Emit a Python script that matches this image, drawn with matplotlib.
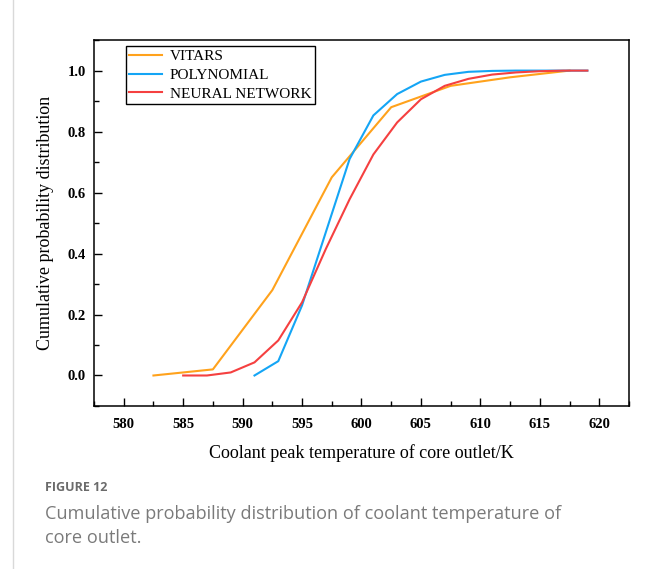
import matplotlib
matplotlib.use("Agg")
import matplotlib.pyplot as plt
from matplotlib.lines import Line2D
from matplotlib.ticker import MultipleLocator

# Кривые распределения для трёх методов
vitars_t = [582.5, 587.5, 592.5, 597.5, 602.5, 607.5, 612.5, 617.5]
vitars_p = [0.0, 0.02, 0.28, 0.65, 0.88, 0.95, 0.978, 1.0]

poly_t = [591, 593, 595, 597, 599, 601, 603, 605, 607, 609, 611, 613, 615, 617, 619]
poly_p = [0.0, 0.047, 0.23, 0.47, 0.71, 0.853, 0.923, 0.964, 0.986, 0.996, 0.999,
          1.0, 1.0, 1.0, 1.0]

nn_t = [585, 587, 589, 591, 593, 595, 597, 599, 601, 603, 605, 607, 609, 611, 613,
        615, 617, 619]
nn_p = [0.0, 0.0, 0.01, 0.043, 0.115, 0.24, 0.415, 0.578, 0.725, 0.83, 0.906, 0.95,
        0.973, 0.987, 0.994, 0.998, 1.0, 1.0]

serif = "Liberation Serif"

fig = plt.figure(figsize=(6.56, 5.69), dpi=100)
ax = fig.add_axes([0.1433, 0.2865, 0.8155, 0.643])

ax.plot(vitars_t, vitars_p, color="#FFA21C", lw=1.5, label="VITARS")
ax.plot(poly_t, poly_p, color="#14A5F5", lw=1.5, label="POLYNOMIAL")
ax.plot(nn_t, nn_p, color="#F54040", lw=1.5, label="NEURAL NETWORK")

ax.set_xlim(577.5, 622.5)
ax.set_ylim(-0.1, 1.1)
ax.xaxis.set_major_locator(MultipleLocator(5))
ax.xaxis.set_minor_locator(MultipleLocator(2.5))
ax.yaxis.set_major_locator(MultipleLocator(0.2))
ax.yaxis.set_minor_locator(MultipleLocator(0.1))
ax.yaxis.set_major_formatter(lambda v, p: f"{v:.1f}")
ax.tick_params(which="both", direction="in", top=False, right=False, width=1)
ax.tick_params(which="major", length=6, pad=6)
ax.tick_params(axis="x", which="major", pad=9)
ax.tick_params(which="minor", length=3.5)
for lab in ax.get_xticklabels() + ax.get_yticklabels():
    lab.set_fontfamily(serif)
    lab.set_fontweight("bold")
    lab.set_fontsize(10.5)
for sp in ax.spines.values():
    sp.set_linewidth(1.1)

ax.set_xlabel("Coolant peak temperature of core outlet/K", fontfamily=serif,
              fontsize=13, labelpad=9)
ax.set_ylabel("Cumulative probability distribution", fontfamily=serif,
              fontsize=13, labelpad=10)

leg = ax.legend(loc="upper left", bbox_to_anchor=(0.059, 0.984), fancybox=False,
                edgecolor="black", framealpha=1, borderpad=0.25, labelspacing=0.32,
                handlelength=2.15, handletextpad=0.5, borderaxespad=0,
                prop={"family": serif, "size": 11})
leg.get_frame().set_linewidth(1.0)

# Подпись к рисунку
fig.text(0.069, 0.137, "FIGURE 12", fontfamily="Open Sans", fontweight="bold",
         fontsize=9, color="#6b6b6b")
fig.text(0.069, 0.088, "Cumulative probability distribution of coolant temperature of",
         fontfamily="Open Sans", fontsize=13.1, color="#7a7a7a")
fig.text(0.069, 0.046, "core outlet.", fontfamily="Open Sans", fontsize=13.1,
         color="#7a7a7a")

fig.add_artist(Line2D([0.02, 0.02], [0, 1], transform=fig.transFigure,
                      color="#d9d9d9", lw=1))

fig.savefig("out.png", dpi=100)
